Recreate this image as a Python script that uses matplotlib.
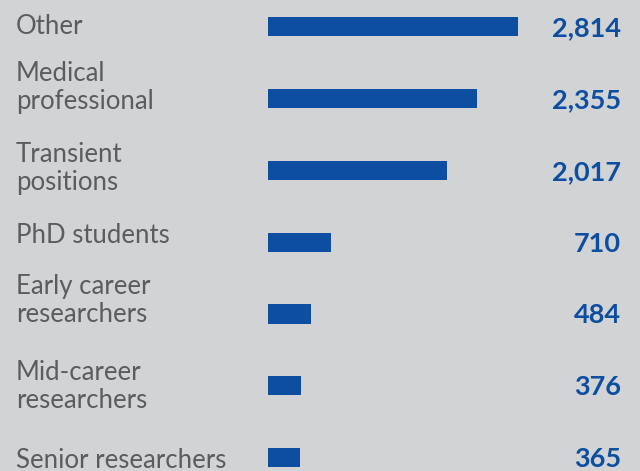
import matplotlib.pyplot as plt
import matplotlib.transforms as mtransforms

categories = ["Other", "Medical\nprofessional", "Transient\npositions", "PhD students",
              "Early career\nresearchers", "Mid-career\nresearchers", "Senior researchers"]
counts = [2814, 2355, 2017, 710, 484, 376, 365]
value_labels = ["2,814", "2,355", "2,017", "710", "484", "376", "365"]

# label baseline nudges (px below bar centre), the source layout is not uniform
label_nudge = [7, 10, 20, 1, 8, 22, 10]

bg = "#d2d3d5"
blue = "#0d4ea0"
grey = "#5b5c5e"

W, H = 640, 471
fig = plt.figure(figsize=(W / 100, H / 100), dpi=100, facecolor=bg)

# bar area starts at 268px and the longest bar is 250px long
ax = fig.add_axes([268 / W, 0, 250 / W, 1])
ax.set_facecolor(bg)
ypos = list(range(len(categories)))
ax.barh(ypos, counts, height=0.265, color=blue)
ax.set_xlim(0, max(counts))
ax.set_ylim(6.188, -0.376)
ax.axis("off")

fig_x = mtransforms.blended_transform_factory(fig.transFigure, ax.transData)
for i, (lab, val) in enumerate(zip(categories, value_labels)):
    off = mtransforms.offset_copy(fig_x, fig=fig, x=0, y=-label_nudge[i], units="dots")
    ax.text(16 / W, i, lab, transform=off, ha="left", va="baseline",
            fontsize=18.5, color=grey, family="Lato", fontweight="normal",
            linespacing=1.15, clip_on=False)
    ax.text(621 / W, i + 0.02, val, transform=fig_x, ha="right", va="center",
            fontsize=19.5, color=blue, family="Lato", fontweight="bold",
            clip_on=False)

fig.savefig("out.png", dpi=100, facecolor=bg)
